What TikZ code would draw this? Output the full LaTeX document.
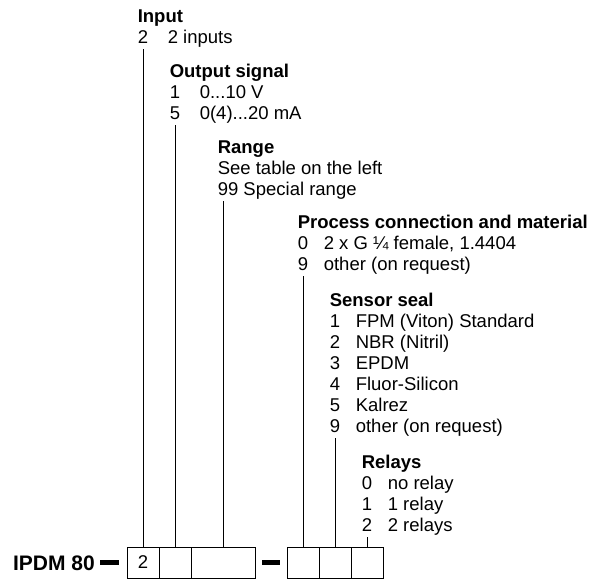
\documentclass[tikz,border=0pt]{standalone}
\usepackage{fontspec}
\setmainfont{Liberation Sans}
\usepackage{tikz}
\usetikzlibrary{
    positioning, % relative placement of the code boxes
    calc % shifted coordinates
}

\begin{document}
\begin{tikzpicture}[
    x=1pt, y=-1pt,
    font=\fontsize{18.5}{21}\selectfont,
    codebox/.style={
        draw=black,
        line width=1pt,
        minimum width=32pt,
        minimum height=31pt,
        inner sep=0pt,
        outer sep=0pt
    },
    widebox/.style={
        codebox,
        minimum width=64pt
    },
    codetext/.style={
        anchor=base west,
        inner sep=0pt,
        outer sep=0pt
    },
    link/.style={
        line width=1pt,
        draw=black
    },
    bar/.style={
        line width=4.5pt,
        draw=black
    }
]

\useasboundingbox (0,0) rectangle (598,579);

% Code boxes
\node[codebox, anchor=west] (b1) at (127,562.5) {2};
\node[codebox, right=0pt of b1] (b2) {};
\node[widebox, right=0pt of b2] (b3) {};
\node[codebox, right=32pt of b3] (b4) {};
\node[codebox, right=0pt of b4] (b5) {};
\node[codebox, right=0pt of b5] (b6) {};

% Type
\node[font=\fontsize{21}{24}\selectfont\bfseries, anchor=base east, inner sep=0pt] (type)
at (95,570) {IPDM 80};

\draw[bar] ([xshift=5pt]b1.west -| type.east) -- ([xshift=-8pt]b1.west);
\draw[bar] ([xshift=7pt]b3.east) -- ([xshift=-7pt]b4.west);

% Input
\node[codetext] (input) at ([xshift=-5.2pt]b1.north |- 0,22)
{\begin{tabular}[t]{@{}p{30pt}@{}l@{}}
\multicolumn{2}{@{}l@{}}{\bfseries Input}\\
2 & 2 inputs
\end{tabular}};

% Output signal
\node[codetext] (output) at ([xshift=-5.2pt]b2.north |- 0,77)
{\begin{tabular}[t]{@{}p{30pt}@{}l@{}}
\multicolumn{2}{@{}l@{}}{\bfseries Output signal}\\
1 & 0...10 V\\
5 & 0(4)...20 mA
\end{tabular}};

% Range
\node[codetext] (range) at ([xshift=-5.2pt]b3.north |- 0,153)
{\begin{tabular}[t]{@{}l@{}}
\bfseries Range\\
See table on the left\\
99 Special range
\end{tabular}};

% Process connection
\node[codetext] (process) at ([xshift=-5.2pt]b4.north |- 0,228)
{\begin{tabular}[t]{@{}p{26pt}@{}l@{}}
\multicolumn{2}{@{}l@{}}{\bfseries Process connection and material}\\
0 & 2 x G ¼ female, 1.4404\\
9 & other (on request)
\end{tabular}};

% Sensor seal
\node[codetext] (seal) at ([xshift=-5.2pt]b5.north |- 0,306)
{\begin{tabular}[t]{@{}p{26pt}@{}l@{}}
\multicolumn{2}{@{}l@{}}{\bfseries Sensor seal}\\
1 & FPM (Viton) Standard\\
2 & NBR (Nitril)\\
3 & EPDM\\
4 & Fluor-Silicon\\
5 & Kalrez\\
9 & other (on request)
\end{tabular}};

% Relays
\node[codetext] (relays) at ([xshift=-5.2pt]b6.north |- 0,468)
{\begin{tabular}[t]{@{}p{26pt}@{}l@{}}
\multicolumn{2}{@{}l@{}}{\bfseries Relays}\\
0 & no relay\\
1 & 1 relay\\
2 & 2 relays
\end{tabular}};

% Leader lines
\draw[link] (b1.north) -- (b1.north |- input.south);
\draw[link] (b2.north) -- (b2.north |- output.south);
\draw[link] (b3.north) -- (b3.north |- range.south);
\draw[link] (b4.north) -- (b4.north |- process.south);
\draw[link] (b5.north) -- (b5.north |- seal.south);
\draw[link] (b6.north) -- (b6.north |- relays.south);

\end{tikzpicture}
\end{document}
